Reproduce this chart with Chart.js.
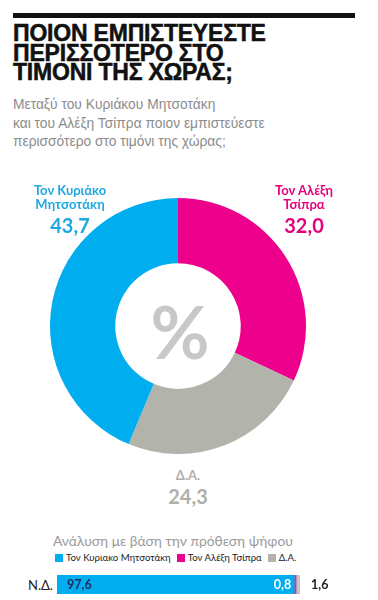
<!DOCTYPE html>
<html>
<head>
<meta charset="utf-8">
<script src="https://cdn.jsdelivr.net/npm/chart.js@4"></script>
<style>
  body { margin: 0; width: 378px; height: 600px; background: #fff; position: relative; overflow: hidden; font-family: "Liberation Sans", Arial, sans-serif; }
  .abs { position: absolute; }
  #topline { left: 13px; top: 13px; width: 342px; height: 5px; background: #111; }
  #title { left: 13px; top: 24px; font-weight: bold; font-size: 23px; line-height: 19.5px; letter-spacing: -0.2px; color: #111; -webkit-text-stroke: 0.5px #111; }
  #subtitle { left: 13px; top: 96px; font-size: 13.8px; line-height: 18.5px; color: #8c8c8c; }
  .lbl { text-align: center; font-family: Lato, "Noto Sans", sans-serif; font-weight: bold; font-size: 13px; line-height: 14px; }
  .lbl .num { font-size: 20px; line-height: 24px; margin-top: 2px; }
  #pct { left: 128px; top: 288px; width: 104px; text-align: center; font-family: Lato, sans-serif; font-weight: bold; font-size: 72px; color: #c8c8c8; }
  #sub2 { left: 53px; top: 532px; font-family: Lato, sans-serif; font-size: 13.8px; color: #9a9a9a; }
  #legend { left: 55px; top: 552px; font-family: Lato, sans-serif; font-size: 9.6px; color: #222; white-space: nowrap; }
  #legend span.box { display: inline-block; width: 8px; height: 8px; margin-right: 3px; vertical-align: -1px; }
  #legend span.item { margin-right: 6px; }
  #rowlbl { left: 28px; top: 577px; font-family: Lato, sans-serif; font-size: 13px; color: #222; }
</style>
</head>
<body>
<div id="topline" class="abs"></div>
<div id="title" class="abs">ΠΟΙΟΝ ΕΜΠΙΣΤΕΥΕΣΤΕ<br>ΠΕΡΙΣΣΟΤΕΡΟ ΣΤΟ<br>ΤΙΜΟΝΙ ΤΗΣ ΧΩΡΑΣ;</div>
<div id="subtitle" class="abs">Μεταξύ του Κυριάκου Μητσοτάκη<br>και του Αλέξη Τσίπρα ποιον εμπιστεύεστε<br>περισσότερο στο τιμόνι της χώρας;</div>

<canvas id="donut" class="abs" style="left:50px;top:198px;width:256px;height:256px"></canvas>
<div id="pct" class="abs">%</div>
<div id="labels"></div>

<div id="sub2" class="abs">Ανάλυση με βάση την πρόθεση ψήφου</div>
<div id="legend" class="abs"></div>
<div id="rowlbl" class="abs"></div>
<canvas id="bar" class="abs" style="left:57px;top:575px;width:300px;height:19px"></canvas>

<script>
// doughnut data, clockwise from 12 o'clock
const categories = ['Τον Αλέξη Τσίπρα', 'Δ.Α.', 'Τον Κυριάκο Μητσοτάκη'];
const shares = [32.0, 24.3, 43.7];
const sliceColors = ['#ec008c', '#b2b3aa', '#00aeef'];

// breakdown by vote intention
const legendNames = ['Τον Κυριακο Μητσοτάκη', 'Τον Αλέξη Τσίπρα', 'Δ.Α.'];
const rowLabels = ['Ν.Δ.'];
const ndMitsotakis = [97.6];
const ndTsipras = [0.8];
const ndNone = [1.6];
const barColors = ['#00aeef', '#b0489a', '#c4c4c4'];

const fmt = v => v.toFixed(1).replace('.', ',');

// slice labels (placement only, text and values from arrays)
const labelSpots = [
  { left: 262, top: 183, width: 84 },  // Tsipras
  { left: 146, top: 468, width: 84 },  // D.A.
  { left: 28, top: 183, width: 84 }    // Mitsotakis
];
const labelLines = ['Τον Αλέξη|Τσίπρα', 'Δ.Α.', 'Τον Κυριάκο|Μητσοτάκη'];
const labelColors = ['#e5007e', '#b0b0a8', '#1fa9e1'];
let html = '';
categories.forEach((c, i) => {
  const s = labelSpots[i];
  html += '<div class="abs lbl" style="left:' + s.left + 'px;top:' + s.top + 'px;width:' + s.width + 'px;color:' + labelColors[i] + '">' +
    labelLines[i].split('|').join('<br>') + '<div class="num">' + fmt(shares[i]) + '</div></div>';
});
document.getElementById('labels').innerHTML = html;

new Chart('donut', {
  type: 'doughnut',
  data: {
    labels: categories,
    datasets: [{
      data: shares,
      backgroundColor: sliceColors,
      borderWidth: 0,
    }],
  },
  options: {
    responsive: false,
    animation: false,
    cutout: '49%',
    plugins: { legend: { display: false }, tooltip: { enabled: false } },
  },
});

// legend + row label
document.getElementById('legend').innerHTML = legendNames.map((n, i) =>
  '<span class="item"><span class="box" style="background:' + [sliceColors[2], sliceColors[0], sliceColors[1]][i] + '"></span>' + n + '</span>'
).join('');
document.getElementById('rowlbl').textContent = rowLabels[0];

const barValueLabels = {
  id: 'barValueLabels',
  afterDatasetsDraw(chart) {
    const ctx = chart.ctx;
    ctx.save();
    ctx.textBaseline = 'middle';
    ctx.font = 'bold 12.5px Lato, sans-serif';
    chart.data.datasets.forEach((ds, di) => {
      chart.getDatasetMeta(di).data.forEach((bar, j) => {
        const v = fmt(ds.data[j]);
        if (di === 0) {
          ctx.fillStyle = '#1d2a5a';
          ctx.textAlign = 'left';
          ctx.fillText(v, bar.base + 10, bar.y);
        } else if (di === 1) {
          ctx.fillStyle = '#ffffff';
          ctx.textAlign = 'right';
          ctx.fillText(v, bar.base - 3, bar.y);
        } else {
          ctx.fillStyle = '#222';
          ctx.textAlign = 'left';
          ctx.fillText(v, chart.chartArea.right + 11, bar.y);
        }
      });
    });
    ctx.restore();
  },
};

new Chart('bar', {
  type: 'bar',
  data: {
    labels: rowLabels,
    datasets: [
      { label: legendNames[0], data: ndMitsotakis, backgroundColor: barColors[0] },
      { label: legendNames[1], data: ndTsipras, backgroundColor: barColors[1] },
      { label: legendNames[2], data: ndNone, backgroundColor: barColors[2] },
    ],
  },
  options: {
    indexAxis: 'y',
    responsive: false,
    animation: false,
    layout: { padding: { left: 0, right: 57, top: 0, bottom: 0 } },
    datasets: { bar: { barPercentage: 1, categoryPercentage: 1, borderWidth: 0 } },
    scales: {
      x: { stacked: true, min: 0, max: 100, display: false },
      y: { stacked: true, display: false },
    },
    plugins: { legend: { display: false }, tooltip: { enabled: false } },
  },
  plugins: [barValueLabels],
});
</script>
</body>
</html>
